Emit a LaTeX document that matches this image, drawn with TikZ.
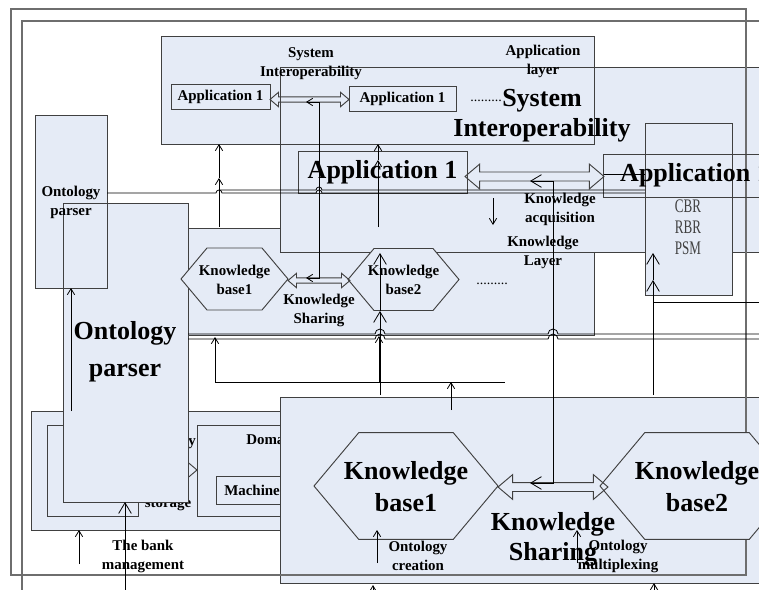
\documentclass[tikz,border=0pt]{standalone}
\usepackage{fontspec}
\setmainfont{Liberation Serif}
\newfontfamily\estrecha[FakeStretch=0.68]{Liberation Serif}
\usetikzlibrary{arrows.meta}

\definecolor{capa}{HTML}{E5EBF6}
\definecolor{borde}{HTML}{404040}
\definecolor{marco}{HTML}{6E6E6E}

\tikzset{
  caja/.style={draw=borde, line width=0.7pt},
  cajaf/.style={caja, fill=capa},
  marcos/.style={draw=marco, line width=1pt},
  txt/.style={font=\bfseries\fontsize{11.2}{14.2}\selectfont, align=center, inner sep=0pt},
  txtg/.style={font=\bfseries\fontsize{19.5}{24}\selectfont, align=center, inner sep=0pt},
  puntos/.style={font=\fontsize{10.5}{12}\selectfont, inner sep=0pt},
  linea/.style={draw=black, line width=0.6pt},
  flecha/.style={linea, -{Straight Barb[length=4.5pt,width=5.5pt]}},
  flechag/.style={linea, -{Straight Barb[length=8pt,width=9.5pt]}},
  flecha2/.style={linea, {Straight Barb[length=4.5pt,width=5.5pt]}-{Straight Barb[length=4.5pt,width=5.5pt]}},
  flecha2g/.style={linea, {Straight Barb[length=8pt,width=9.5pt]}-{Straight Barb[length=8pt,width=9.5pt]}},
}

% flecha doble hueca: x1, x2, y, escala
\newcommand{\flechadoble}[4]{%
  \pgfmathsetmacro\flL{8.5*#4}%
  \pgfmathsetmacro\flH{7.2*#4}%
  \pgfmathsetmacro\flS{2.6*#4}%
  \draw[caja] (#1,#3) -- ({#1+\flL},{#3-\flH}) -- ({#1+\flL},{#3-\flS})
    -- ({#2-\flL},{#3-\flS}) -- ({#2-\flL},{#3-\flH}) -- (#2,#3)
    -- ({#2-\flL},{#3+\flH}) -- ({#2-\flL},{#3+\flS}) -- ({#1+\flL},{#3+\flS})
    -- ({#1+\flL},{#3+\flH}) -- cycle;}

% hexagono de base de conocimiento: x1, x2, y, escala
\newcommand{\hexagono}[4]{%
  \pgfmathsetmacro\hxA{26*#4}%
  \pgfmathsetmacro\hxH{31*#4}%
  \filldraw[cajaf] (#1,#3) -- ({#1+\hxA},{#3-\hxH}) -- ({#2-\hxA},{#3-\hxH})
    -- (#2,#3) -- ({#2-\hxA},{#3+\hxH}) -- ({#1+\hxA},{#3+\hxH}) -- cycle;}

\begin{document}
\begin{tikzpicture}[x=0.75pt, y=-0.75pt]
  \useasboundingbox (0,0) rectangle (759,589);
  \clip (0,0) rectangle (759,589);

  % Almacenamiento de dominio (queda debajo)
  \filldraw[cajaf] (31,411) rectangle (700,530);
  \filldraw[cajaf] (47,425) rectangle (138,516);
  \filldraw[cajaf] (197,425) rectangle (430,516);
  \filldraw[cajaf] (216,476) rectangle (330,504);
  \flechadoble{138}{197}{470}{1}
  \node[txt, anchor=east] (ontal) at (196,442) {Ontology};
  \node[txt] (almac) at (168,505) {storage};
  \node[txt, anchor=west] (domin) at (246,439) {Domain};
  \node[txt, anchor=west] (maqui) at (224,490) {Machine};

  % Capa de conocimiento
  \filldraw[cajaf] (161,228) rectangle (594,335);

  % Fondos de las capas
  \fill[capa] (35,115) rectangle (107,288);
  \fill[capa] (63,203) rectangle (188,502);
  \fill[capa] (280,67) rectangle (800,252);
  \fill[capa] (161,36) rectangle (594,144);
  \fill[capa] (280,397) rectangle (800,583);
  \draw[caja] (35,115) rectangle (107,288);
  \draw[caja] (63,203) rectangle (188,502);
  \draw[caja] (161,36) rectangle (594,144);
  \draw[caja] (280,67) rectangle (800,252);
  \draw[caja] (280,397) rectangle (800,583);

  % Marcos
  \draw[marcos] (11,9) rectangle (746,575);
  \draw[marcos] (22,21) rectangle (800,620);

  % Vista ampliada
  \draw[caja] (298,151) rectangle (467,193);
  \node[txtg] (apl1g) at (382.5,172) {Application 1};
  \node[txtg, font=\bfseries\fontsize{19.5}{22.5}\selectfont] (sig) at (542,116) {System\\Interoperability};
  \flechadoble{465}{604}{176.5}{1.72}
  \node[txtg, font=\bfseries\fontsize{19.5}{27.5}\selectfont] (opg) at (125,352) {Ontology\\parser};
  \hexagono{314}{498}{486}{1.72}
  \hexagono{600}{794}{486}{1.72}
  \node[txtg] (bc1g) at (406,487) {Knowledge\\base1};
  \node[txtg] (bc2g) at (697,487) {Knowledge\\base2};
  \flechadoble{498}{608}{487}{1.72}
  \node[txtg, font=\bfseries\fontsize{19.5}{22.5}\selectfont] (csg) at (553,539) {Knowledge\\Sharing};

  % Capa de aplicacion
  \draw[caja] (171,84) rectangle (270,109);
  \node[txt] (apl1) at (220.5,96.5) {Application 1};
  \flechadoble{270}{349}{99.5}{1}
  \draw[caja] (349,86) rectangle (456,111);
  \node[txt] (apl2) at (402.5,98.5) {Application 1};
  \node[puntos] (ptsa) at (486,101) {.........};
  \node[txt] (si) at (311,64) {System\\Interoperability};
  \node[txt] (capaap) at (543,61) {Application\\layer};

  % Bases de conocimiento
  \hexagono{181}{288}{279}{1}
  \hexagono{348}{459}{279.5}{1}
  \node[txt] (bc1) at (234.5,280) {Knowledge\\base1};
  \node[txt] (bc2) at (403.5,280) {Knowledge\\base2};
  \flechadoble{288}{350}{280.5}{1}
  \node[txt] (cs) at (319,310) {Knowledge\\Sharing};
  \node[puntos] (ptsc) at (492,284) {.........};
  \node[txt] (capacon) at (543,252) {Knowledge\\Layer};
  \node[txt] (adq) at (560,209) {Knowledge\\acquisition};

  % Analizador de ontologias
  \node[txt] (op) at (71,202) {Ontology\\parser};

  % Inferencia
  \filldraw[cajaf] (645,123) rectangle (732,295);
  \node[font=\estrecha\fontsize{14.4}{15.8}\selectfont, align=center, inner sep=0pt, text=borde] (inf) at (688,227) {CBR\\RBR\\PSM};
  \draw[caja] (603,154) rectangle (787,197);
  \node[txtg] (apl2g) at (695,175.5) {Application 1};

  % Gestion
  \node[txt] (banco) at (143,556) {The bank\\management};
  \node[txt] (creac) at (418,556) {Ontology\\creation};
  \node[txt] (multi) at (618,556) {Ontology\\multiplexing};

  % Conexiones horizontales con saltos
  \draw[linea] (107,193) -- (216,193) arc[start angle=180, end angle=360, radius=3]
    -- (316,193) arc[start angle=180, end angle=360, radius=3] -- (645,193);
  \draw[linea] (219,190) -- (316,190) arc[start angle=180, end angle=360, radius=3] -- (645,190);
  \draw[linea] (188,334) -- (375,334) arc[start angle=180, end angle=360, radius=5]
    -- (548,334) arc[start angle=180, end angle=360, radius=5] -- (800,334);
  \draw[linea] (188,339) -- (375,339) arc[start angle=180, end angle=360, radius=5]
    -- (548,339) arc[start angle=180, end angle=360, radius=5] -- (800,339);
  \draw[linea] (604,174) -- (645,174);
  \draw[linea] (653,302) -- (800,302);

  % Flechas verticales
  \draw[flecha] (219,227) -- (219,178);
  \draw[flecha] (219,178) -- (219,144);
  \draw[flecha] (378,227) -- (378,160);
  \draw[flecha] (378,160) -- (378,144);
  \draw[flechag] (380,395) -- (380,311);
  \draw[flechag] (380,311) -- (380,253);
  \draw[flechag] (653,395) -- (653,280);
  \draw[flechag] (653,280) -- (653,253);
  \draw[flecha] (493,198) -- (493,225);
  \draw[flecha] (71,411) -- (71,288);
  \draw[flechag] (125,600) -- (125,502);
  \draw[flechag] (373,600) -- (373,585);
  \draw[flechag] (654,600) -- (654,583);

  % Enlaces de comparticion
  \draw[flecha2] (306,102) -- (319,102) -- (319,278) -- (306,278);
  \draw[flecha2g] (530,181) -- (553,181) -- (553,483) -- (530,483);

  % Bajo la capa de conocimiento
  \draw[linea] (215,382) -- (505,382);
  \draw[flecha] (215,382) -- (215,337);
  \draw[flecha] (379,382) -- (379,336);
  \draw[flecha] (451,410) -- (451,382);

  % Flechas de gestion
  \draw[flecha] (79,564) -- (79,530);
  \draw[flecha] (377,563) -- (377,530);
  \draw[flecha] (577,563) -- (577,530);
\end{tikzpicture}
\end{document}
